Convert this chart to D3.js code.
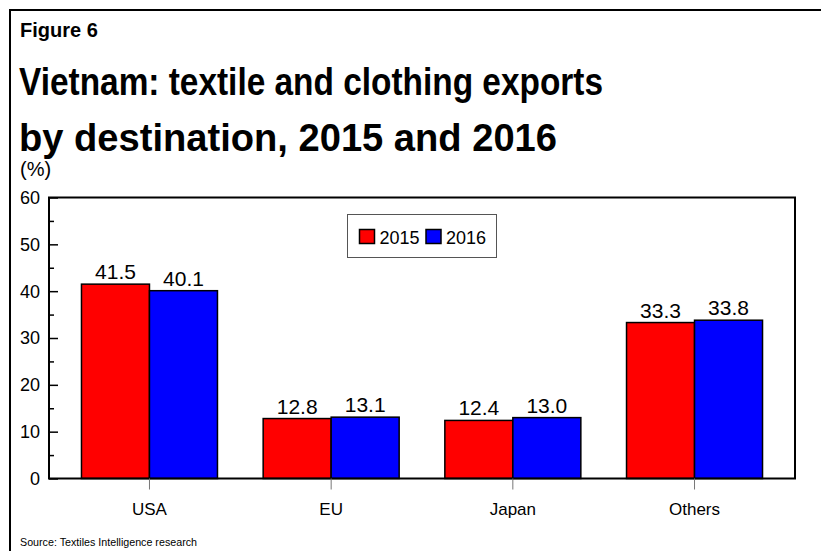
<!DOCTYPE html>
<html>
<head>
<meta charset="utf-8">
<script src="https://cdn.jsdelivr.net/npm/d3@7"></script>
<style>
  html, body { margin: 0; padding: 0; background: #fff; }
  svg { display: block; font-family: "Liberation Sans", Arial, sans-serif; }
</style>
</head>
<body>
<svg id="chart" width="821" height="551"></svg>
<script>
// Export shares by destination (%)
const categories = ["USA", "EU", "Japan", "Others"];
const seriesNames = ["2015", "2016"];
const values2015 = [41.5, 12.8, 12.4, 33.3];
const values2016 = [40.1, 13.1, 13.0, 33.8];
const yTicks = [0, 10, 20, 30, 40, 50, 60];
const yMinorTicks = [5, 15, 25, 35, 45, 55];
const seriesColors = ["#ff0000", "#0000ff"];

const rows = categories.map((c, i) => ({ cat: c, vals: [values2015[i], values2016[i]] }));

const svg = d3.select("#chart");

// Outer frame (top and left edges visible)
svg.append("path")
  .attr("d", "M10,551V10H821")
  .attr("fill", "none").attr("stroke", "#000").attr("stroke-width", 2);

// Headings
svg.append("text").attr("x", 20).attr("y", 37)
  .attr("font-size", 20).attr("font-weight", "bold").text("Figure 6");
const t1 = svg.append("text").attr("x", 19).attr("y", 95)
  .attr("font-size", 38).attr("font-weight", "bold")
  .text("Vietnam: textile and clothing exports");
t1.attr("textLength", 584).attr("lengthAdjust", "spacingAndGlyphs");
const t2 = svg.append("text").attr("x", 19).attr("y", 151)
  .attr("font-size", 38).attr("font-weight", "bold")
  .text("by destination, 2015 and 2016");
t2.attr("textLength", 538).attr("lengthAdjust", "spacingAndGlyphs");
svg.append("text").attr("x", 20).attr("y", 176)
  .attr("font-size", 20).text("(%)");

// Plot area
const L = 49, R = 795, T = 197.5, B = 478.5;

const y = d3.scaleLinear().domain([0, 60]).range([B, T]);
const x = d3.scaleBand().domain(categories).range([L, R])
  .paddingInner(0).paddingOuter(0.053);
const xs = d3.scaleBand().domain(seriesNames).range([-68, 68]).padding(0);

// Bars
const groups = svg.append("g").selectAll("g").data(rows).join("g")
  .attr("transform", d => `translate(${x(d.cat) + x.bandwidth() / 2},0)`);

groups.selectAll("rect").data(d => d.vals.map((v, j) => ({ v, j })))
  .join("rect")
  .attr("x", d => xs(seriesNames[d.j]))
  .attr("width", xs.bandwidth())
  .attr("y", d => y(d.v))
  .attr("height", d => y(0) - y(d.v))
  .attr("fill", d => seriesColors[d.j])
  .attr("stroke", "#000").attr("stroke-width", 1.5);

// Value labels
groups.selectAll("text.val").data(d => d.vals.map((v, j) => ({ v, j })))
  .join("text").attr("class", "val")
  .attr("x", d => xs(seriesNames[d.j]) + xs.bandwidth() / 2)
  .attr("y", d => y(d.v) - 5)
  .attr("text-anchor", "middle")
  .attr("font-size", 21)
  .text(d => d.v.toFixed(1));

// Plot frame
svg.append("rect")
  .attr("x", L).attr("y", T).attr("width", R - L).attr("height", B - T)
  .attr("fill", "none").attr("stroke", "#000").attr("stroke-width", 2);

// Y axis: inward major and minor ticks
const yAxis = svg.append("g").attr("transform", `translate(${L},0)`)
  .call(d3.axisRight(y).tickValues(yTicks).tickSize(9).tickFormat(""));
yAxis.select(".domain").remove();
yAxis.selectAll("line").attr("stroke", "#000").attr("stroke-width", 1.5);

const yMinor = svg.append("g").attr("transform", `translate(${L},0)`)
  .call(d3.axisRight(y).tickValues(yMinorTicks).tickSize(5).tickFormat(""));
yMinor.select(".domain").remove();
yMinor.selectAll("line").attr("stroke", "#000").attr("stroke-width", 1.5);

svg.append("g").selectAll("text").data(yTicks).join("text")
  .attr("x", 40).attr("y", d => y(d))
  .attr("dy", "0.36em")
  .attr("text-anchor", "end")
  .attr("font-size", 18)
  .text(d => d);

// X axis: ticks below at category centres
const xAxis = svg.append("g").attr("transform", `translate(0,${B})`)
  .call(d3.axisBottom(x).tickSize(11).tickFormat(""));
xAxis.select(".domain").remove();
xAxis.selectAll("line").attr("stroke", "#777").attr("stroke-width", 1);

svg.append("g").selectAll("text").data(categories).join("text")
  .attr("x", d => x(d) + x.bandwidth() / 2)
  .attr("y", 515)
  .attr("text-anchor", "middle")
  .attr("font-size", 17)
  .text(d => d);

// Legend
const lg = svg.append("g").attr("transform", "translate(347.5,214.5)");
lg.append("rect").attr("width", 149).attr("height", 43)
  .attr("fill", "#fff").attr("stroke", "#555").attr("stroke-width", 1);
const items = lg.selectAll("g").data(seriesNames).join("g")
  .attr("transform", (d, i) => `translate(${12 + i * 66.5},15)`);
items.append("rect").attr("width", 15).attr("height", 14)
  .attr("fill", (d, i) => seriesColors[i])
  .attr("stroke", "#000").attr("stroke-width", 1.5);
items.append("text").attr("x", 20).attr("y", 14)
  .attr("font-size", 18).text(d => d);

// Source note
svg.append("text").attr("x", 20).attr("y", 546)
  .attr("font-size", 11)
  .attr("textLength", 177).attr("lengthAdjust", "spacingAndGlyphs")
  .text("Source: Textiles Intelligence research");
</script>
</body>
</html>
